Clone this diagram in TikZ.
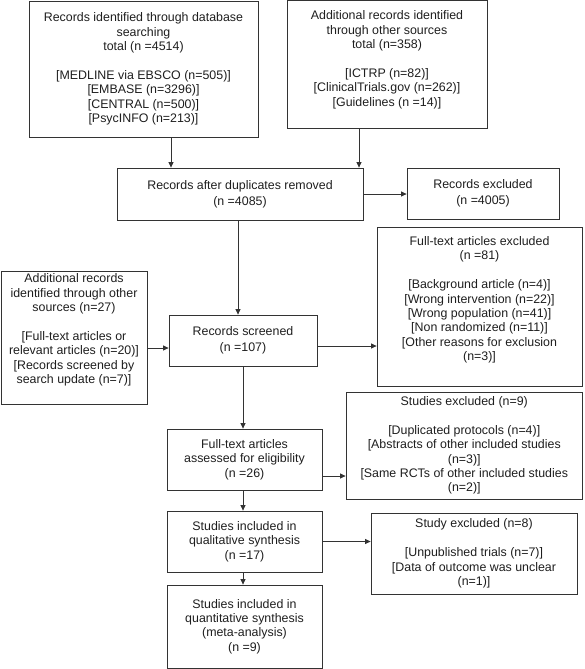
\documentclass[tikz,border=0pt]{standalone}
\usepackage{fontspec}
\setmainfont{Liberation Sans}
\usetikzlibrary{arrows.meta}
\definecolor{linec}{HTML}{333333}
\definecolor{textc}{HTML}{1E1E1E}
\tikzset{
  box/.style={draw=linec, line width=0.8pt, inner sep=0pt, align=center,
    text=textc, font=\fontsize{12.4}{14.4}\selectfont},
  arr/.style={draw=linec, line width=0.8pt, -{Triangle[length=5.5pt,width=5pt]}}
}
\begin{document}
\begin{tikzpicture}[x=1pt,y=-1pt]
\useasboundingbox (0,0) rectangle (584,669);

\node[box, minimum width=229pt, minimum height=136pt] (b1) at (143.5,69)
 {Records identified through database\\ searching\\ total (n =4514)\\[14.4pt]{}[MEDLINE via EBSCO (n=505)]\\{}[EMBASE (n=3296)]\\{}[CENTRAL (n=500)]\\{}[PsycINFO (n=213)]};

\node[box, minimum width=200pt, minimum height=127.4pt] (b2) at (387,64.3)
 {Additional records identified\\ through other sources\\ total (n=358)\\[14.4pt]{}[ICTRP (n=82)]\\{}[ClinicalTrials.gov (n=262)]\\{}[Guidelines (n =14)]\\[-2.8pt]\mbox{}};

\node[box, minimum width=246pt, minimum height=52pt] (b3) at (240,194)
 {Records after duplicates removed\\[2pt] (n =4085)};

\node[box, minimum width=152pt, minimum height=51pt] (b4) at (483,193.5)
 {Records excluded\\[2pt] (n =4005)};

\node[box, minimum width=205pt, minimum height=159pt] (b5) at (479.5,306.5)
 {Full-text articles excluded\\ (n =81)\\[14.4pt]{}[Background article (n=4)]\\{}[Wrong intervention (n=22)]\\{}[Wrong population (n=41)]\\{}[Non randomized (n=11)]\\{}[Other reasons for exclusion\\ (n=3)]\\[1.2pt]\mbox{}};

\node[box, minimum width=146pt, minimum height=133pt] (b6) at (74,337.5)
 {Additional records\\ identified through other\\ sources (n=27)\\[14.4pt]{}[Full-text articles or\\ relevant articles (n=20)]\\{}[Records screened by\\ search update (n=7)]\\[3.2pt]\mbox{}};

\node[box, minimum width=148pt, minimum height=51pt] (b7) at (243,340.5)
 {Records screened\\[2pt] (n =107)};

\node[box, minimum width=236.5pt, minimum height=107pt] (b8) at (464.25,445.5)
 {Studies excluded (n=9)\\[14.4pt]{}[Duplicated protocols (n=4)]\\{}[Abstracts of other included studies\\ (n=3)]\\{}[Same RCTs of other included studies\\ (n=2)]};

\node[box, minimum width=155pt, minimum height=61pt] (b9) at (244.5,459.5)
 {Full-text articles\\ assessed for eligibility\\ (n =26)};

\node[box, minimum width=155pt, minimum height=61pt] (b10) at (244.5,541.5)
 {Studies included in\\ qualitative synthesis\\ (n =17)};

\node[box, minimum width=155pt, minimum height=83pt] (b11) at (244.5,626.5)
 {Studies included in\\ quantitative synthesis\\ (meta-analysis)\\ (n =9)};

\node[box, minimum width=206pt, minimum height=81pt] (b12) at (474,553.5)
 {Study excluded (n=8)\\[14.4pt]{}[Unpublished trials (n=7)]\\{}[Data of outcome was unclear\\ (n=1)]};

\draw[arr] ([xshift=27.5pt]b1.south) -- ([xshift=27.5pt]b1.south |- b3.north);
\draw[arr] ([xshift=-28pt]b2.south) -- ([xshift=-28pt]b2.south |- b3.north);
\draw[arr] (b3.east) -- (b3.east -| b4.west);
\draw[arr] ([xshift=-2pt]b3.south) -- ([xshift=-2pt]b3.south |- b7.north);
\draw[arr] ([yshift=-10.5pt]b6.east) -- ([yshift=-10.5pt]b6.east -| b7.west);
\draw[arr] ([yshift=-5.5pt]b7.east) -- ([yshift=-5.5pt]b7.east -| b5.west);
\draw[arr] (b7.south) -- (b7.south |- b9.north);
\draw[arr] ([yshift=-16.5pt]b9.east) -- ([yshift=-16.5pt]b9.east -| b8.west);
\draw[arr] ([xshift=-1.5pt]b9.south) -- ([xshift=-1.5pt]b9.south |- b10.north);
\draw[arr] ([xshift=-1.5pt]b10.south) -- ([xshift=-1.5pt]b10.south |- b11.north);
\draw[arr] (b10.east) -- (b10.east -| b12.west);
\end{tikzpicture}
\end{document}
